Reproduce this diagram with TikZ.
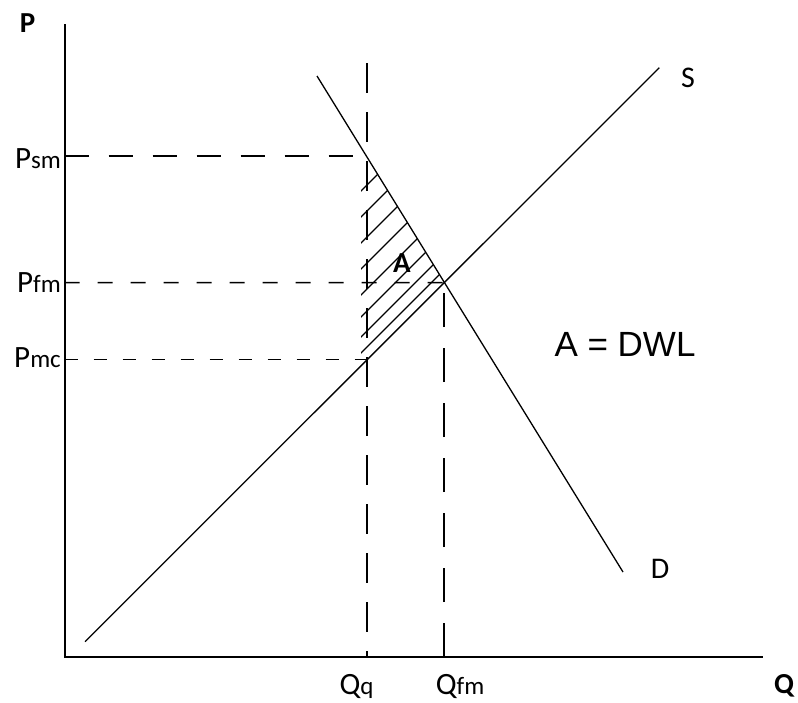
\documentclass[tikz,border=0pt]{standalone}
\usepackage{fontspec}
\setmainfont{Carlito}
\newfontfamily\arialfam{Liberation Sans}
\newcommand\mylab[2]{{\fontsize{31}{34}\selectfont #1}{\fontsize{25}{28}\selectfont #2}}
\begin{document}
\begin{tikzpicture}[x=1pt,y=-1pt,
  axis/.style={line width=2pt},
  curve/.style={line width=1.3pt},
  guide/.style={line width=1.5pt},
  hatchline/.style={line width=1.1pt},
  lbl/.style={inner sep=0pt},
  bigl/.style={inner sep=0pt,font=\fontsize{30}{34}\selectfont},
  boldl/.style={inner sep=0pt,font=\fontsize{29}{33}\selectfont\bfseries}]
\useasboundingbox (0,0) rectangle (798,702);
% key points
\coordinate (O) at (64.5,657);
\coordinate (Ytop) at (64.5,24);
\coordinate (Xend) at (763,657);
\coordinate (S1) at (85,641.7);
\coordinate (S2) at (659.3,67.7);
\coordinate (D1) at (317,76);
\coordinate (D2) at (623,572);
\coordinate (E) at (444,282.7);
\coordinate (QqTop) at (367,63);
\coordinate (QqBot) at (367,657);
\coordinate (QfmBot) at (444,657);
\coordinate (Top) at (367,157);
\coordinate (Bot) at (367,360.7);
\coordinate (PsmL) at (64.5,156);
\coordinate (PfmL) at (64.5,282.5);
\coordinate (PmcL) at (64.5,359.5);
\coordinate (PsmR) at (369,156);
\coordinate (PmcR) at (367,359.5);
% hatching
\begin{scope}
  \clip (361,157) -- (Top) -- (E) -- (361,365.7) -- cycle;
  \foreach \c in {552,578,604,630,656,678,698,714}
    \draw[hatchline] (\c-420,420) -- (\c-100,100);
\end{scope}
% axes
\draw[axis] (Ytop) -- (O) -- (Xend);
% guides
\draw[guide,dash pattern=on 24pt off 20pt] (PsmL) -- (PsmR);
\draw[guide,dash pattern=on 15pt off 18pt] (PfmL) -- (E);
\draw[guide,dash pattern=on 13pt off 16pt] (PmcL) -- (PmcR);
\draw[guide,dash pattern=on 30pt off 19pt] (QqTop) -- (QqBot);
\draw[guide,dash pattern=on 34pt off 21pt] (QfmBot) -- (E);
% curves
\draw[curve] (S1) -- (S2);
\draw[curve] (D1) -- (D2);
% labels
\node[boldl] (Plab) at (27.5,23) {P};
\node[boldl,anchor=base] (Qlab) at (784,693) {Q};
\node[lbl,anchor=base east] (Psm) at (61,168) {\mylab{P}{sm}};
\node[lbl,anchor=base east] (Pfm) at (61,292.5) {\mylab{P}{fm}};
\node[lbl,anchor=base east] (Pmc) at (61,367) {\mylab{P}{mc}};
\node[lbl,anchor=base] (Qq) at (356.5,694) {\mylab{Q}{q}};
\node[lbl,anchor=base] (Qfm) at (460,694) {\mylab{Q}{fm}};
\node[bigl] (Slab) at (688,77.5) {S};
\node[bigl] (Dlab) at (660,569) {D};
\node[boldl] (Alab) at (402,263) {A};
\node[lbl,font=\arialfam\fontsize{35}{40}\selectfont] (DWL) at (625,344.5) {A = DWL};
\end{tikzpicture}
\end{document}
